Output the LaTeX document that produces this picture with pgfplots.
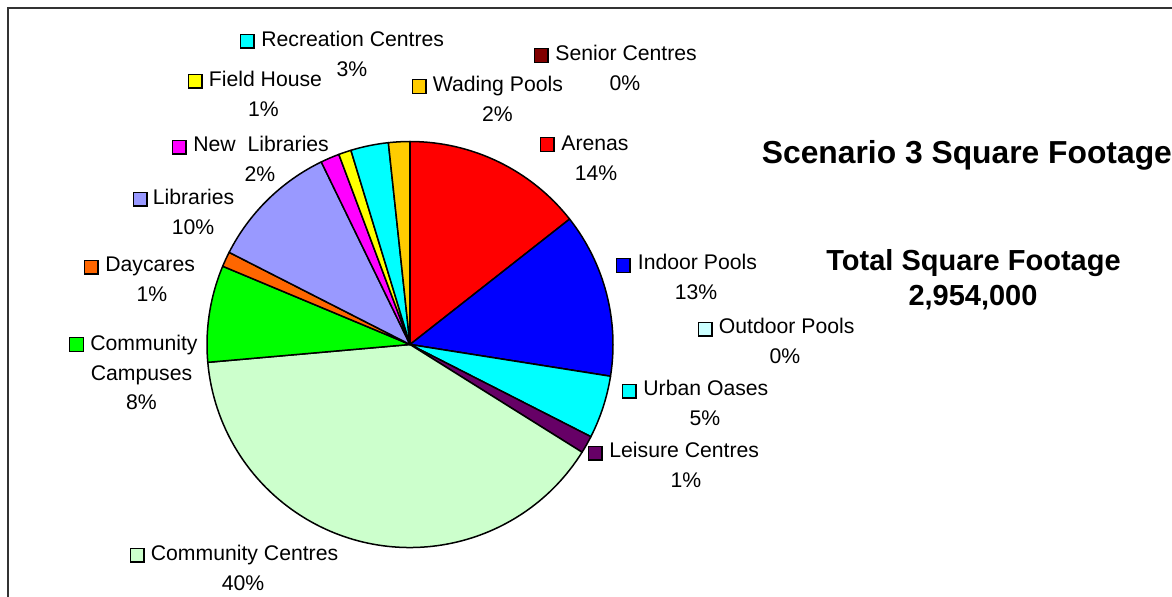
\documentclass[border=0pt]{standalone}
\usepackage{fontspec}
\setmainfont{Liberation Sans}
\usepackage{pgfplots}
\usepackage{pgfplotstable}
\pgfplotsset{compat=1.18}

\definecolor{cArena}{HTML}{FF0000}
\definecolor{cIndoor}{HTML}{0000FF}
\definecolor{cOutdoor}{HTML}{CCFFFF}
\definecolor{cUrban}{HTML}{00FFFF}
\definecolor{cLeisure}{HTML}{660066}
\definecolor{cCentres}{HTML}{CCFFCC}
\definecolor{cCampus}{HTML}{00FF00}
\definecolor{cDaycare}{HTML}{FF6600}
\definecolor{cLibrary}{HTML}{9999FF}
\definecolor{cNewLib}{HTML}{FF00FF}
\definecolor{cField}{HTML}{FFFF00}
\definecolor{cRec}{HTML}{00FFFF}
\definecolor{cWading}{HTML}{FFCC00}
\definecolor{cSenior}{HTML}{800000}
\definecolor{frame}{HTML}{333333}

% share of total square footage (%), clockwise from 12 o'clock
\pgfplotstableread[col sep=comma]{
name,pct,fill
Arenas,14.4,cArena
Indoor Pools,13.1,cIndoor
Outdoor Pools,0.0,cOutdoor
Urban Oases,5.0,cUrban
Leisure Centres,1.4,cLeisure
Community Centres,39.7,cCentres
Community Campuses,7.7,cCampus
Daycares,1.2,cDaycare
Libraries,10.3,cLibrary
New Libraries,1.5,cNewLib
Field House,1.0,cField
Recreation Centres,3.0,cRec
Wading Pools,1.7,cWading
Senior Centres,0.0,cSenior
}\pietable

\newcommand\labfont{\fontsize{10.6}{12.5}\selectfont}
% #1 colour, #2/#3 key square centre, #4 text left, #5 baseline, #6 name, #7 percent centre x, #8 percent
\newcommand\pielabel[8]{%
  \node[draw=black, line width=0.7pt, fill=#1, minimum size=6.8pt, inner sep=0pt] at (axis cs:#2,#3) {};
  \node[anchor=base west, inner sep=0pt, font=\labfont] at (axis cs:#4,#5) {#6};
  \node[anchor=base, inner sep=0pt, font=\labfont] at (axis cs:#7,#5+30) {#8};
}

\begin{document}
\begin{tikzpicture}
\begin{axis}[
  width=586pt, height=298pt, scale only axis,
  xmin=0, xmax=1172, ymin=0, ymax=596, y dir=reverse,
  hide axis, clip=false,
]
% chart frame
\draw[frame, line width=1pt] (axis cs:8,620) -- (axis cs:8,7.5) -- (axis cs:1200,7.5);

% pie wedges
\pgfplotstablegetrowsof{\pietable}
\pgfmathtruncatemacro{\lastrow}{\pgfplotsretval-1}
\def\cum{0}
\pgfplotsforeachungrouped \i in {0,...,\lastrow}{%
  \pgfplotstablegetelem{\i}{pct}\of{\pietable}\let\val\pgfplotsretval
  \pgfplotstablegetelem{\i}{fill}\of{\pietable}\let\col\pgfplotsretval
  \pgfmathsetmacro{\angA}{90-3.6*\cum}
  \pgfmathsetmacro{\angB}{90-3.6*(\cum+\val)}
  \pgfmathsetmacro{\cum}{\cum+\val}
  \edef\wedge{\noexpand\filldraw[fill=\col, draw=black, line width=0.75pt, line join=round]
    (axis cs:410,344.5) -- ++(\angA:101.5pt)
    arc[start angle=\angA, end angle=\angB, radius=101.5pt] -- cycle;}
  \wedge
}

% labels
\pielabel{cRec}{247}{41}{261}{46}{Recreation Centres}{352}{3\%}
\pielabel{cField}{195}{81}{208.5}{86}{Field House}{263.5}{1\%}
\pielabel{cNewLib}{179}{147}{193}{151.5}{New\ \ Libraries}{260}{2\%}
\pielabel{cLibrary}{140}{199}{152.5}{204.5}{Libraries}{193}{10\%}
\pielabel{cDaycare}{91}{267}{105}{271.5}{Daycares}{152}{1\%}
\pielabel{cSenior}{541}{55.5}{555}{60}{Senior Centres}{625}{0\%}
\pielabel{cWading}{419}{86.5}{432.5}{91.5}{Wading Pools}{497.5}{2\%}
\pielabel{cArena}{547}{144.5}{561}{150}{Arenas}{596}{14\%}
\pielabel{cIndoor}{623}{265.5}{637.5}{269.5}{Indoor Pools}{696}{13\%}
\pielabel{cOutdoor}{705}{329}{718.5}{333.5}{Outdoor Pools}{785}{0\%}
\pielabel{cUrban}{629}{391}{643}{395.5}{Urban Oases}{705}{5\%}
\pielabel{cLeisure}{595}{453}{609}{457}{Leisure Centres}{686}{1\%}
\pielabel{cCentres}{137}{555}{150.5}{560}{Community Centres}{243}{40\%}
% two-line label
\node[draw=black, line width=0.7pt, fill=cCampus, minimum size=6.8pt, inner sep=0pt] at (axis cs:76.5,344.5) {};
\node[anchor=base west, inner sep=0pt, font=\labfont] at (axis cs:90,350) {Community};
\node[anchor=base, inner sep=0pt, font=\labfont] at (axis cs:141.5,380) {Campuses};
\node[anchor=base, inner sep=0pt, font=\labfont] at (axis cs:141.5,409.5) {8\%};

% titles
\node[anchor=base west, inner sep=0pt, font=\fontsize{15.9}{19}\selectfont\bfseries] at (axis cs:761.5,163.3) {Scenario 3 Square Footage};
\node[anchor=base, inner sep=0pt, font=\fontsize{14.5}{17}\selectfont\bfseries] at (axis cs:973.5,270) {Total Square Footage};
\node[anchor=base, inner sep=0pt, font=\fontsize{14.5}{17}\selectfont\bfseries] at (axis cs:973,305) {2,954,000};
\end{axis}
\pgfresetboundingbox
\useasboundingbox (0,0) rectangle (586pt,298pt);
\end{tikzpicture}
\end{document}
